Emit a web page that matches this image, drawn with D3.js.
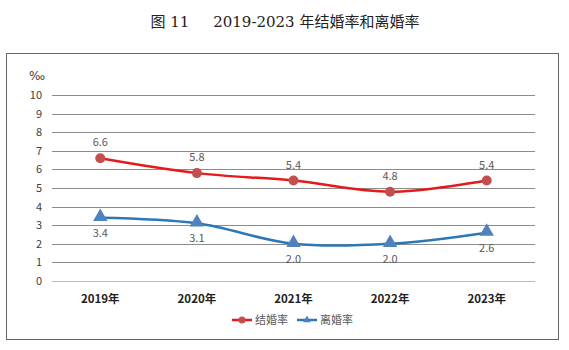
<!DOCTYPE html>
<html><head><meta charset="utf-8">
<script src="https://cdn.jsdelivr.net/npm/d3@7"></script>
<style>body{margin:0;background:#fff}</style>
</head><body><svg id="c" width="569" height="350"></svg>
<script>
const years = ["2019年","2020年","2021年","2022年","2023年"];
const marriage = [6.6, 5.8, 5.4, 4.8, 5.4];
const divorce = [3.4, 3.1, 2.0, 2.0, 2.6];
const yTicks = [0,1,2,3,4,5,6,7,8,9,10];
const seriesNames = ["结婚率","离婚率"];

const svg = d3.select("#c");
const font = "'Noto Sans CJK SC', 'Noto Sans', sans-serif";

svg.append("text").attr("x", 285).attr("y", 27).attr("text-anchor","middle")
  .attr("font-family","'DejaVu Serif','Noto Sans CJK SC',serif").attr("font-size",15).attr("fill","#222")
  .text("图 11\u00a0\u00a0\u00a0\u00a0\u00a02019-2023 年结婚率和离婚率");

svg.append("rect").attr("x",6.5).attr("y",53.5).attr("width",552).attr("height",286)
  .attr("fill","none").attr("stroke","#666").attr("stroke-width",1);

const x = d3.scaleBand().domain(years).range([52,535]);
const y = d3.scaleLinear().domain([0,10]).range([281,95]);

const g = svg.append("g");
g.selectAll("line.grid").data(yTicks).join("line")
  .attr("x1",52).attr("x2",535).attr("y1",d=>Math.round(y(d))+0.5).attr("y2",d=>Math.round(y(d))+0.5)
  .attr("stroke",d=>d===0?"#bbb":"#8c8c8c").attr("stroke-width",1);
g.selectAll("text.yl").data(yTicks).join("text")
  .attr("x",42).attr("y",d=>y(d)+4).attr("text-anchor","end")
  .attr("font-family",font).attr("font-size",11).attr("fill","#404040").text(d=>d);
svg.append("text").attr("x",29).attr("y",80).attr("font-family","'DejaVu Sans',sans-serif").attr("font-size",12).attr("fill","#404040").text("‰");

g.selectAll("text.xl").data(years).join("text")
  .attr("x",d=>x(d)+x.bandwidth()/2).attr("y",303).attr("text-anchor","middle")
  .attr("font-family",font).attr("font-size",11.5).attr("font-weight","bold").attr("fill","#222").text(d=>d);

const cx = (d,i)=>x(years[i])+x.bandwidth()/2;
const line = d3.line().x((d,i)=>cx(d,i)).y(d=>y(d)).curve(d3.curveCatmullRom.alpha(0.5));

svg.append("path").attr("d",line(marriage)).attr("fill","none").attr("stroke","#e41a1c").attr("stroke-width",2.5);
svg.append("path").attr("d",line(divorce)).attr("fill","none").attr("stroke","#2a78b8").attr("stroke-width",2.5);

svg.selectAll("circle.m").data(marriage).join("circle")
  .attr("cx",(d,i)=>cx(d,i)).attr("cy",d=>y(d)).attr("r",5).attr("fill","#c0504d");
const tri = d3.symbol().type(d3.symbolTriangle).size(90);
svg.selectAll("path.t").data(divorce).join("path")
  .attr("d",tri).attr("transform",(d,i)=>`translate(${cx(d,i)},${y(d)-1})`).attr("fill","#4f81bd");

svg.selectAll("text.ml").data(marriage).join("text")
  .attr("x",(d,i)=>cx(d,i)).attr("y",d=>y(d)-12).attr("text-anchor","middle")
  .attr("font-family",font).attr("font-size",11).attr("fill","#595959").text(d=>d.toFixed(1));
svg.selectAll("text.dl").data(divorce).join("text")
  .attr("x",(d,i)=>cx(d,i)).attr("y",d=>y(d)+19).attr("text-anchor","middle")
  .attr("font-family",font).attr("font-size",11).attr("fill","#595959").text(d=>d.toFixed(1));

// legend
const lg = svg.append("g");
const leg = [{n:seriesNames[0],c:"#e41a1c",m:"#c0504d",x:232},{n:seriesNames[1],c:"#2a78b8",m:"#4f81bd",x:297}];
leg.forEach(l=>{
  lg.append("line").attr("x1",l.x).attr("x2",l.x+20).attr("y1",320).attr("y2",320).attr("stroke",l.c).attr("stroke-width",2.5);
  if(l.n===seriesNames[0]) lg.append("circle").attr("cx",l.x+10).attr("cy",320).attr("r",3.5).attr("fill",l.m);
  else lg.append("path").attr("d",d3.symbol().type(d3.symbolTriangle).size(25)).attr("transform",`translate(${l.x+10},320)`).attr("fill",l.m);
  lg.append("text").attr("x",l.x+23).attr("y",324).attr("font-family",font).attr("font-size",11).attr("fill","#595959").text(l.n);
});
</script></body></html>
